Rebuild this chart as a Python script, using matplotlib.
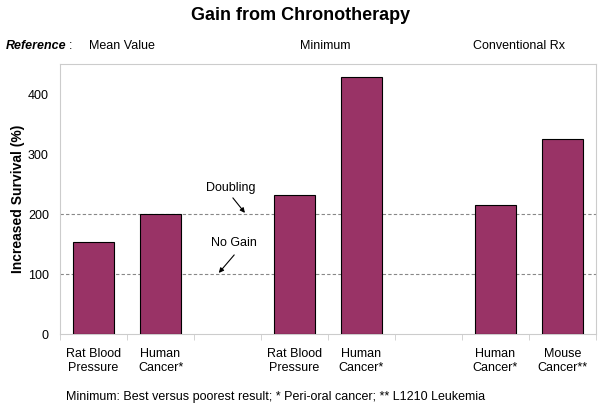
import numpy as np
import matplotlib
matplotlib.use("Agg")
import matplotlib.pyplot as plt

plt.rcParams['font.family'] = ['Liberation Sans', 'DejaVu Sans']

# categories (blank slots separate the three groups)
labels = ["Rat Blood\nPressure", "Human\nCancer*", "",
          "Rat Blood\nPressure", "Human\nCancer*", "",
          "Human\nCancer*", "Mouse\nCancer**"]
values = [153, 200, np.nan, 232, 428, np.nan, 215, 325]
groups = ["Mean Value", "Minimum", "Conventional Rx"]
group_x = [0.148, 0.498, 0.786]  # left edge of each header, figure fraction
ref_lines = [100, 200]

fig = plt.figure(figsize=(6.02, 4.09), dpi=100)
ax = fig.add_axes([0.0997, 0.183, 0.8903, 0.6605])

x = np.arange(len(labels))
ax.bar(x, values, width=0.62, color="#993366", edgecolor="black", linewidth=0.8, zorder=3)

for v in ref_lines:
    ax.axhline(v, color="#888888", linestyle=(0, (3, 2)), linewidth=0.8, zorder=2)

ax.set_xlim(-0.5, len(labels) - 0.5)
ax.set_ylim(0, 450)
ax.set_yticks([0, 100, 200, 300, 400])
ax.set_xticks(x)
ax.set_xticklabels(labels, fontsize=9, linespacing=1.25)
ax.set_xticks(np.arange(-0.5, len(labels)), minor=True)
ax.tick_params(axis="x", which="major", length=0, pad=10)
ax.tick_params(axis="x", which="minor", length=4, color="#cccccc")
ax.tick_params(axis="y", length=0, labelsize=9, pad=8)

for side in ["top", "right", "left", "bottom"]:
    ax.spines[side].set_color("#cccccc")
    ax.spines[side].set_linewidth(0.8)

ax.set_ylabel("Increased Survival (%)", fontsize=10, fontweight="bold", labelpad=2)

arrow = dict(arrowstyle="-|>", color="black", lw=0.8, mutation_scale=7, shrinkA=0, shrinkB=0)
ax.text(2.05, 243, "Doubling", ha="center", va="center", fontsize=9)
ax.annotate("", xy=(2.26, 202), xytext=(2.08, 227), arrowprops=arrow)
ax.text(2.1, 152, "No Gain", ha="center", va="center", fontsize=9)
ax.annotate("", xy=(1.87, 102), xytext=(2.1, 132), arrowprops=arrow)

fig.text(0.5, 0.963, "Gain from Chronotherapy", ha="center", va="center",
         fontsize=13, fontweight="bold")
fig.text(0.01, 0.887, "Reference", ha="left", va="center", fontsize=9,
         fontweight="bold", style="italic")
fig.text(0.115, 0.887, ":", ha="left", va="center", fontsize=9)
for g, gx in zip(groups, group_x):
    fig.text(gx, 0.887, g, ha="left", va="center", fontsize=9)

fig.text(0.11, 0.03, "Minimum: Best versus poorest result; * Peri-oral cancer; ** L1210 Leukemia",
         ha="left", va="center", fontsize=9)

fig.savefig("out.png", dpi=100)
